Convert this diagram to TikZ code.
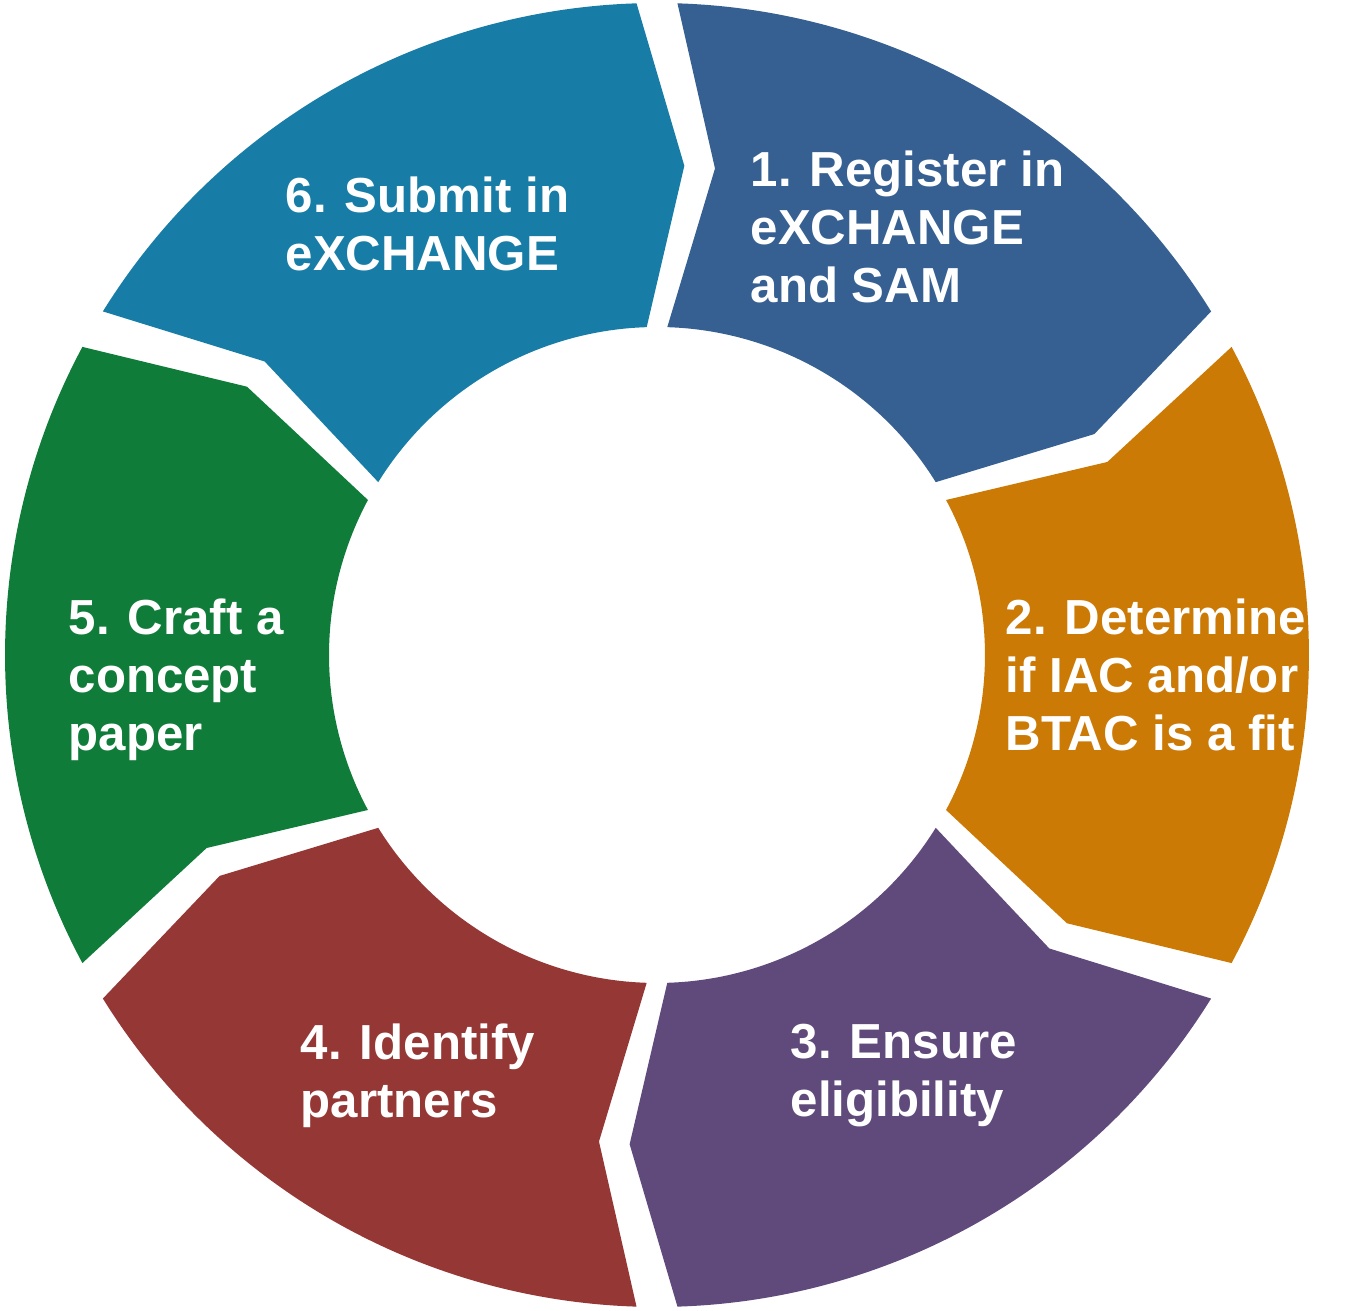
\documentclass[tikz,border=0pt]{standalone}
\usepackage{fontspec}
\setmainfont{Liberation Sans}
\usetikzlibrary{positioning}

\definecolor{segA}{RGB}{54,96,146}
\definecolor{segB}{RGB}{204,122,6}
\definecolor{segC}{RGB}{96,74,123}
\definecolor{segD}{RGB}{149,55,53}
\definecolor{segE}{RGB}{16,124,57}
\definecolor{segF}{RGB}{23,125,166}

\tikzset{
  steplabel/.style={text=white, font=\fontsize{14}{16.5}\selectfont\bfseries,
    align=left, anchor=west, inner sep=0pt}
}

\begin{document}
\begin{tikzpicture}
  \useasboundingbox (-6.57,-6.56) rectangle (6.93,6.55);
  % ring segments: outer arc, tip, inner arc, notch
  \foreach \k/\col in {1/segA,2/segB,3/segC,4/segD,5/segE,6/segF}{
    \pgfmathsetmacro{\a}{90-60*(\k-1)-1.8}
    \pgfmathsetmacro{\b}{30-60*(\k-1)+1.8}
    \fill[\col] (\a:6.52) arc[start angle=\a, end angle=\b, radius=6.52]
      -- (\b-5:4.9) -- (\b:3.28)
      arc[start angle=\b, end angle=\a, radius=3.28]
      -- (\a-5:4.9) -- cycle;
  }
  \node[steplabel] (s1) at (0.93,4.28) {1. Register in\\eXCHANGE\\and SAM};
  \node[steplabel] (s2) at (3.48,-0.20) {2. Determine\\if IAC and/or\\BTAC is a fit};
  \node[steplabel] (s3) at (1.33,-4.21) {3. Ensure\\eligibility};
  \node[steplabel] (s4) at (-3.57,-4.21) {4. Identify\\partners};
  \node[steplabel] (s5) at (-5.89,-0.25) {5. Craft a\\concept\\paper};
  \node[steplabel] (s6) at (-3.72,4.31) {6. Submit in\\eXCHANGE};
\end{tikzpicture}
\end{document}
